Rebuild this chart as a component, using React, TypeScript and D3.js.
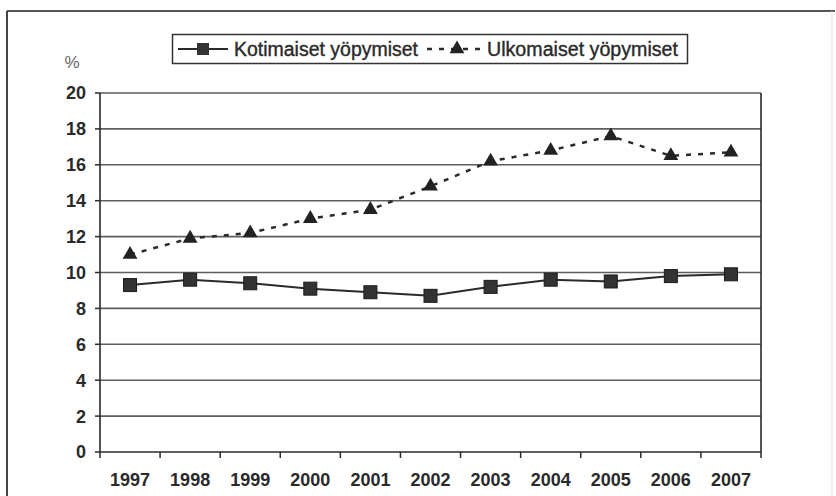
import React from "react";
import * as d3 from "d3";

const years = ["1997", "1998", "1999", "2000", "2001", "2002", "2003", "2004", "2005", "2006", "2007"];
const kotimaiset = [9.3, 9.6, 9.4, 9.1, 8.9, 8.7, 9.2, 9.6, 9.5, 9.8, 9.9];
const ulkomaiset = [11.0, 11.9, 12.2, 13.0, 13.5, 14.8, 16.2, 16.8, 17.6, 16.5, 16.7];
const yTicks = [0, 2, 4, 6, 8, 10, 12, 14, 16, 18, 20];
const seriesNames = ["Kotimaiset yöpymiset", "Ulkomaiset yöpymiset"];
const unitLabel = "%";

const W = 836;
const H = 496;
const plot = { left: 100, right: 761, top: 93, bottom: 452 };
const FONT = "'Liberation Sans', Arial, sans-serif";
const INK = "#2a2a2a";
const GRID = "#5e5e5e";

export default function App() {
  const x = d3.scaleBand<string>().domain(years).range([plot.left, plot.right]).padding(0);
  const y = d3.scaleLinear().domain([0, 20]).range([plot.bottom, plot.top]);
  const cx = (yr: string) => (x(yr) as number) + x.bandwidth() / 2;
  const line = d3
    .line<number>()
    .x((_, i) => cx(years[i]))
    .y((d) => y(d));
  const tri = d3.symbol().type(d3.symbolTriangle).size(95)() as string;
  const sq = 13;
  const boundaries = years.map((yr) => x(yr) as number).concat([plot.right]);

  return (
    <svg
      width={W}
      height={H}
      style={{ position: "absolute", left: 0, top: 0, background: "#fff" }}
      fontFamily={FONT}
    >
      <rect x={0} y={0} width={W} height={H} fill="#fff" />
      {/* outer frame */}
      <line x1={7} y1={11} x2={835} y2={11} stroke="#555" strokeWidth={2} />
      <line x1={7} y1={11} x2={7} y2={H} stroke="#444" strokeWidth={2} />
      <line x1={832} y1={11} x2={832} y2={H} stroke="#ddd" strokeWidth={1} />

      {/* grid */}
      {yTicks.map((t) => (
        <line
          key={"g" + t}
          x1={plot.left}
          x2={plot.right}
          y1={y(t)}
          y2={y(t)}
          stroke={t === 0 ? INK : GRID}
          strokeWidth={1.6}
        />
      ))}
      {/* y axis */}
      <line x1={plot.left} x2={plot.left} y1={plot.top} y2={plot.bottom} stroke={INK} strokeWidth={1.6} />
      <line x1={plot.right} x2={plot.right} y1={plot.top} y2={plot.bottom} stroke={INK} strokeWidth={1.6} />
      {yTicks.map((t) => (
        <g key={"t" + t}>
          <line x1={plot.left - 5} x2={plot.left} y1={y(t)} y2={y(t)} stroke={INK} strokeWidth={1.5} />
          <text
            x={86}
            y={y(t)}
            dy="0.36em"
            textAnchor="end"
            fontSize={18}
            fontWeight="bold"
            fill={INK}
          >
            {t}
          </text>
        </g>
      ))}
      {/* x ticks */}
      {boundaries.map((b, i) => (
        <line key={"xt" + i} x1={b} x2={b} y1={plot.bottom} y2={plot.bottom + 6} stroke={INK} strokeWidth={1.5} />
      ))}
      {years.map((yr) => (
        <text
          key={"xl" + yr}
          x={cx(yr)}
          y={480}
          dy="0.36em"
          textAnchor="middle"
          fontSize={18}
          fontWeight="bold"
          fill={INK}
        >
          {yr}
        </text>
      ))}
      <text x={72} y={62} dy="0.36em" textAnchor="middle" fontSize={17} fill="#666">
        {unitLabel}
      </text>

      {/* series */}
      <path d={line(ulkomaiset) as string} fill="none" stroke={INK} strokeWidth={2.5} strokeDasharray="5,7" />
      <path d={line(kotimaiset) as string} fill="none" stroke={INK} strokeWidth={2} />
      {ulkomaiset.map((v, i) => (
        <path key={"u" + i} d={tri} transform={`translate(${cx(years[i])},${y(v)})`} fill="#222" />
      ))}
      {kotimaiset.map((v, i) => (
        <rect
          key={"k" + i}
          x={cx(years[i]) - sq / 2}
          y={y(v) - sq / 2}
          width={sq}
          height={sq}
          fill="#333"
          stroke="#1a1a1a"
          strokeWidth={1}
        />
      ))}

      {/* legend */}
      <rect x={172.5} y={34.5} width={515} height={29} fill="#fff" stroke="#333" strokeWidth={1.5} />
      <line x1={178} x2={228} y1={49} y2={49} stroke={INK} strokeWidth={2} />
      <rect x={203 - 6} y={49 - 6} width={12} height={12} fill="#333" />
      <text
        x={234}
        y={49}
        dy="0.36em"
        fontSize={20}
        fill={INK}
        stroke={INK}
        strokeWidth={0.4}
        textLength={184}
        lengthAdjust="spacingAndGlyphs"
      >
        {seriesNames[0]}
      </text>
      <line x1={427} x2={482} y1={49} y2={49} stroke={INK} strokeWidth={2.5} strokeDasharray="5,7" />
      <path d={tri} transform={`translate(457,49)`} fill="#222" />
      <text
        x={487}
        y={49}
        dy="0.36em"
        fontSize={20}
        fill={INK}
        stroke={INK}
        strokeWidth={0.4}
        textLength={191}
        lengthAdjust="spacingAndGlyphs"
      >
        {seriesNames[1]}
      </text>
    </svg>
  );
}
